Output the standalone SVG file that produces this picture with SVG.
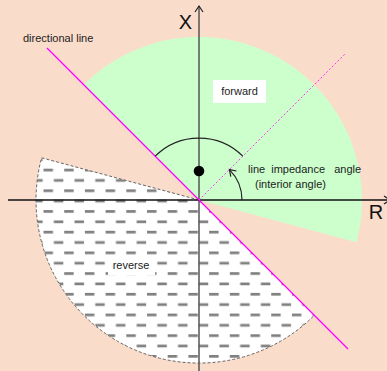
<svg xmlns="http://www.w3.org/2000/svg" width="387" height="371" viewBox="0 0 387 371">
<defs>
<style>
.lbl{font-family:"Liberation Sans",Arial,sans-serif;font-size:11px;fill:#222}
.ax{font-family:"Liberation Sans",Arial,sans-serif;font-size:20px;fill:#111}
</style>
<pattern id="dash" patternUnits="userSpaceOnUse" x="43.5" y="168.7" width="20.7" height="20.7">
<rect x="0" y="0" width="9.5" height="2.7" fill="#808080"/>
<rect x="10.35" y="10.35" width="9.5" height="2.7" fill="#808080"/>
</pattern>
<marker id="open" markerWidth="10" markerHeight="10" refX="8" refY="5" orient="auto" markerUnits="userSpaceOnUse">
<path d="M2,1 L8,5 L2,9" fill="none" stroke="#222" stroke-width="1.2"/>
</marker>
</defs>
<rect width="387" height="371" fill="#FADCCB"/>
<g id="forward">
<path d="M199,200 L356.4,242.2 A163,163 0 0 0 83.7,84.7 Z" fill="#CCFFCC"/>
<rect x="213" y="80" width="53" height="23" fill="#FFFFFF"/>
<text class="lbl" x="239.5" y="94.5" text-anchor="middle">forward</text>
</g>
<g id="reverse">
<path d="M199,200 L41.6,157.8 A163,163 0 0 0 314.3,315.3 Z" fill="#FFFFFF"/>
<path d="M199,200 L41.6,157.8 A163,163 0 0 0 314.3,315.3 Z" fill="url(#dash)" stroke="#666" stroke-width="1" stroke-dasharray="3,2"/>
<rect x="108" y="257" width="47" height="18" fill="#FFFFFF"/>
<text class="lbl" x="131" y="269" text-anchor="middle">reverse</text>
</g>
<g id="axes">
<line x1="199" y1="371" x2="199" y2="6" stroke="#555" stroke-width="1.5" marker-end="url(#open)"/>
<line x1="8" y1="200" x2="390" y2="200" stroke="#111" stroke-width="1.3" marker-end="url(#open)"/>
<text class="ax" x="185.5" y="29" text-anchor="middle">X</text>
<text class="ax" x="376" y="219" text-anchor="middle">R</text>
</g>
<g id="directional-line">
<line x1="47" y1="48" x2="348" y2="349" stroke="#FF00FF" stroke-width="1.3"/>
<text class="lbl" x="23" y="42">directional line</text>
</g>
<g id="impedance-line">
<line x1="199" y1="200" x2="346" y2="53" stroke="#FF33FF" stroke-width="1" stroke-dasharray="2,2"/>
</g>
<g id="connectors">
<path d="M155.2,156.2 A62,62 0 0 1 242.8,156.2" fill="none" stroke="#222" stroke-width="1.2"/>
<path d="M242,200 A43,43 0 0 0 229.4,169.6" fill="none" stroke="#222" stroke-width="1.2" marker-end="url(#open)"/>
</g>
<g id="dot">
<circle cx="199" cy="171" r="5.3" fill="#000"/>
</g>
<g id="angle-label">
<text class="lbl" x="248" y="173" xml:space="preserve">line  impedance   angle</text>
<text class="lbl" x="255" y="188">(interior angle)</text>
</g>
</svg>
